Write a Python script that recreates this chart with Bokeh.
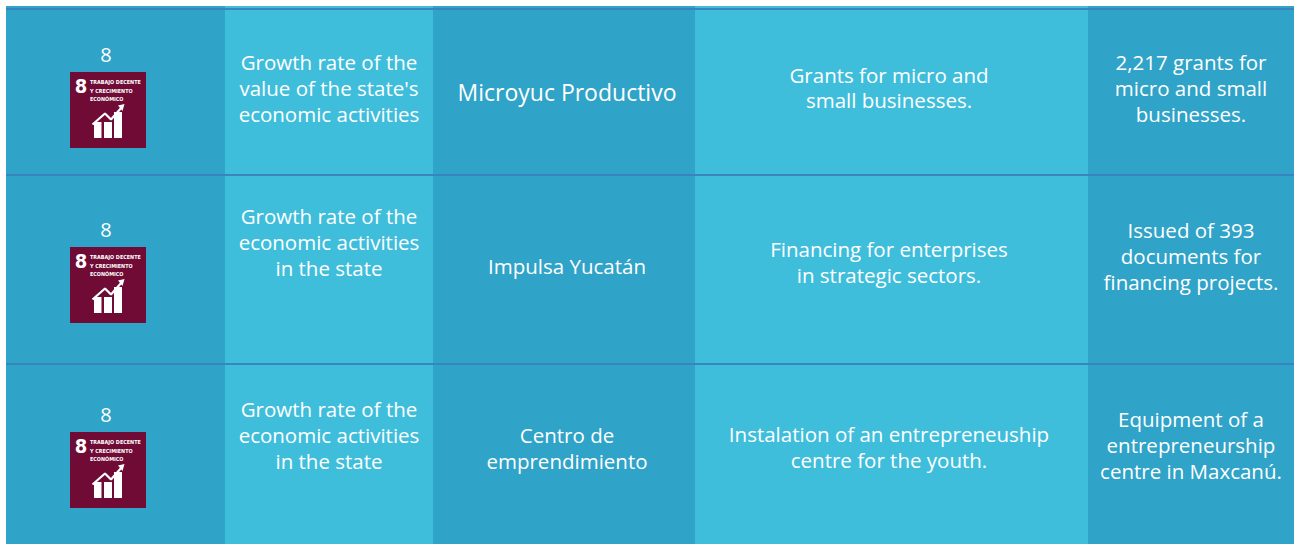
from bokeh.plotting import figure
from bokeh.core.properties import value
from bokeh.embed import file_html
from bokeh.resources import INLINE

goal_numbers = ["8", "8", "8"]
indicators = [["Growth rate of the", "value of the state's", "economic activities"],
              ["Growth rate of the", "economic activities", "in the state"],
              ["Growth rate of the", "economic activities", "in the state"]]
programs = [["Microyuc Productivo"], ["Impulsa Yucatán"], ["Centro de", "emprendimiento"]]
actions = [["Grants for micro and", "small businesses."],
           ["Financing for enterprises", "in strategic sectors."],
           ["Instalation of an entrepreneuship", "centre for the youth."]]
results = [["2,217 grants for", "micro and small", "businesses."],
           ["Issued of 393", "documents for", "financing projects."],
           ["Equipment of a", "entrepreneurship", "centre in Maxcanú."]]
icon_lines = ["TRABAJO DECENTE", "Y CRECIMIENTO", "ECONÓMICO"]

FONT = "Open Sans"
DARK, LIGHT, RULE, ICON = "#30A3C8", "#3FBEDC", "#3A82BE", "#6F0B35"

p = figure(width=1294, height=544, x_range=(0.5, 1294.5), y_range=(544.5, 0.5),
           output_backend="svg", toolbar_location=None, min_border=0,
           margin=(0, 0, 0, 0), outline_line_color=None,
           background_fill_color="white", border_fill_color="white")
p.xaxis.visible = False
p.yaxis.visible = False
p.grid.visible = False

p.quad(left=6, right=1295, top=6, bottom=545, fill_color=DARK, line_color=None)
p.quad(left=[225, 695], right=[433, 1088], top=6, bottom=545, fill_color=LIGHT, line_color=None)
p.quad(left=6, right=1295, top=[8.0, 174.0, 363.0], bottom=[10.0, 176.0, 365.0],
       fill_color=RULE, line_color=None, fill_alpha=0.95)

centers = {"ind": 329, "prog": 567, "act": 889, "res": 1191}
ys = {"ind": [88, 242, 435], "prog": [91.5, 265.5, 448], "act": [87.5, 262, 447],
      "res": [88, 256, 445]}
LH = {"ind": 26, "prog": 26, "act": 25.4, "res": 26}

def draw(key, table):
    xs, yy, ts, fs = [], [], [], []
    for row, lines in enumerate(table):
        top = ys[key][row] - (len(lines) - 1) * LH[key] / 2
        for i, t in enumerate(lines):
            xs.append(centers[key]); yy.append(top + i * LH[key]); ts.append(t)
            fs.append("23px" if t == "Microyuc Productivo" else "20.5px")
    p.text(xs, yy, text=ts, text_font=value(FONT), text_font_size=fs, text_color="white",
           text_align="center", text_baseline="middle")

draw("ind", indicators); draw("prog", programs); draw("act", actions); draw("res", results)

tops = [72, 247, 432]
p.text([106, 106, 106], [t - 17 for t in tops], text=goal_numbers, text_font=value(FONT),
       text_font_size="20px", text_color="white", text_align="center", text_baseline="middle")
p.quad(left=70, right=146, top=tops, bottom=[t + 76 for t in tops], fill_color=ICON, line_color=None)

for t in tops:
    p.text([81], [t + 14], text=["8"], text_font=value("DejaVu Sans Condensed"), text_font_style="bold",
           text_font_size="20px", text_color="white", text_align="center", text_baseline="middle")
    p.text([90] * 3, [t + 10, t + 18.5, t + 27], text=icon_lines, text_font=value("DejaVu Sans Condensed"),
           text_font_style="bold", text_font_size="5.4px", text_color="white",
           text_align="left", text_baseline="middle")
    p.quad(left=[94, 104, 114], right=[101.5, 112, 122], top=[t + 50, t + 50, t + 40], bottom=t + 66,
           fill_color="white", line_color=None)
    p.line([92.5, 105, 111, 122], [t + 52.5, t + 41.5, t + 47.5, t + 35], line_color="white", line_width=2.2)
    p.patch([118, 124.5, 122.5], [t + 33.5, t + 32, t + 39], fill_color="white", line_color=None)

open("out.html", "w").write(file_html(p, INLINE))
